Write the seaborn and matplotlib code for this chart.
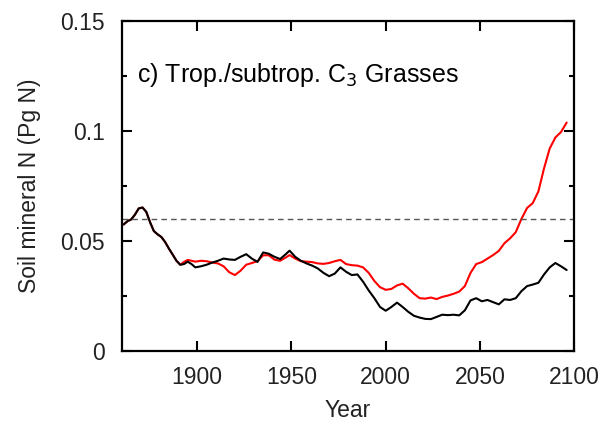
import numpy as np
import pandas as pd
import matplotlib
matplotlib.use("Agg")
import matplotlib.pyplot as plt
import seaborn as sns
from matplotlib.ticker import MultipleLocator

years = [1861, 1863, 1865, 1867, 1869, 1871, 1873, 1875, 1877, 1879, 1881, 1883,
         1885, 1887, 1889, 1891, 1893, 1895, 1897, 1899, 1902, 1905, 1908, 1911,
         1914, 1917, 1920, 1923, 1926, 1929, 1932, 1935, 1938, 1941, 1944, 1947,
         1949, 1952, 1955, 1958, 1961, 1964, 1967, 1970, 1973, 1976, 1979, 1982,
         1985, 1988, 1991, 1994, 1997, 2000, 2003, 2006, 2009, 2012, 2015, 2018,
         2021, 2024, 2027, 2030, 2033, 2036, 2039, 2042, 2045, 2048, 2051, 2054,
         2057, 2060, 2063, 2066, 2069, 2072, 2075, 2078, 2081, 2084, 2087, 2090,
         2093, 2096]

soil_n_black = [0.0575, 0.0590, 0.0598, 0.0620, 0.0648, 0.0652, 0.0632, 0.0585,
                0.0545, 0.0530, 0.0518, 0.0495, 0.0465, 0.0438, 0.0410, 0.0392,
                0.0395, 0.0406, 0.0395, 0.0380, 0.0385, 0.0392, 0.0402, 0.0410,
                0.0420, 0.0416, 0.0414, 0.0428, 0.0440, 0.0420, 0.0405, 0.0448,
                0.0442, 0.0428, 0.0418, 0.0440, 0.0456, 0.0428, 0.0410, 0.0398,
                0.0388, 0.0375, 0.0355, 0.0340, 0.0352, 0.0380, 0.0360, 0.0345,
                0.0348, 0.0315, 0.0275, 0.0240, 0.0200, 0.0183, 0.0200, 0.0220,
                0.0200, 0.0178, 0.0160, 0.0152, 0.0146, 0.0145, 0.0155, 0.0165,
                0.0163, 0.0165, 0.0162, 0.0185, 0.0230, 0.0240, 0.0226, 0.0232,
                0.0222, 0.0212, 0.0235, 0.0232, 0.0240, 0.0272, 0.0295, 0.0302,
                0.0310, 0.0348, 0.0380, 0.0400, 0.0385, 0.0368]

soil_n_red = [0.0575, 0.0590, 0.0598, 0.0620, 0.0648, 0.0652, 0.0632, 0.0585,
              0.0545, 0.0530, 0.0518, 0.0495, 0.0465, 0.0438, 0.0410, 0.0392,
              0.0405, 0.0414, 0.0410, 0.0406, 0.0410, 0.0408, 0.0402, 0.0398,
              0.0385, 0.0358, 0.0345, 0.0365, 0.0392, 0.0400, 0.0408, 0.0435,
              0.0435, 0.0415, 0.0410, 0.0425, 0.0436, 0.0420, 0.0408, 0.0406,
              0.0404, 0.0398, 0.0396, 0.0400, 0.0408, 0.0414, 0.0395, 0.0390,
              0.0388, 0.0380, 0.0355, 0.0318, 0.0290, 0.0278, 0.0282, 0.0298,
              0.0306, 0.0285, 0.0260, 0.0240, 0.0238, 0.0243, 0.0236, 0.0246,
              0.0252, 0.0260, 0.0270, 0.0295, 0.0355, 0.0395, 0.0404, 0.0420,
              0.0436, 0.0455, 0.0490, 0.0512, 0.0540, 0.0600, 0.0650, 0.0672,
              0.0725, 0.0830, 0.0920, 0.0970, 0.0995, 0.1038]

reference_level = 0.06
x_ticks = [1900, 1950, 2000, 2050, 2100]
y_ticks = [0, 0.05, 0.1, 0.15]
y_tick_labels = ["0", "0.05", "0.1", "0.15"]

sns.set_theme(style="ticks")
plt.rcParams["font.family"] = ["Liberation Sans", "DejaVu Sans"]

df = pd.DataFrame({
    "Year": years * 2,
    "N": soil_n_red + soil_n_black,
    "run": ["red"] * len(years) + ["black"] * len(years),
})

fig = plt.figure(figsize=(6.0, 4.26), dpi=100)
ax = fig.add_axes([0.203, 0.176, 0.754, 0.775])

sns.lineplot(data=df, x="Year", y="N", hue="run",
             palette={"red": "#ff0000", "black": "#000000"},
             hue_order=["red", "black"], linewidth=1.5, legend=False, ax=ax,
             estimator=None, sort=False)

ax.axhline(reference_level, color="#555555", linewidth=1.0, dashes=(4, 3))

ax.set_xlim(1860, 2100)
ax.set_ylim(0, 0.15)
ax.set_xticks(x_ticks)
ax.set_yticks(y_ticks)
ax.set_yticklabels(y_tick_labels)
ax.yaxis.set_minor_locator(MultipleLocator(0.025))

ax.tick_params(which="both", direction="in", top=True, right=True,
               width=1.5, colors="black", labelcolor="#222222")
ax.tick_params(which="major", length=7, labelsize=16.5)
ax.tick_params(axis="x", which="major", pad=11)
ax.tick_params(axis="y", which="major", pad=12)
ax.tick_params(which="minor", length=3.8)

for s in ax.spines.values():
    s.set_linewidth(1.6)
    s.set_color("black")

ax.set_xlabel("Year", fontsize=16.5, color="#222222", labelpad=7)
ax.set_ylabel("Soil mineral N (Pg N)", fontsize=16.5, color="#222222", labelpad=14)

ax.text(0.033, 0.836, r"c) Trop./subtrop. C$_3$ Grasses", transform=ax.transAxes,
        fontsize=18, color="black", ha="left", va="center")

fig.savefig("out.png", dpi=100)
